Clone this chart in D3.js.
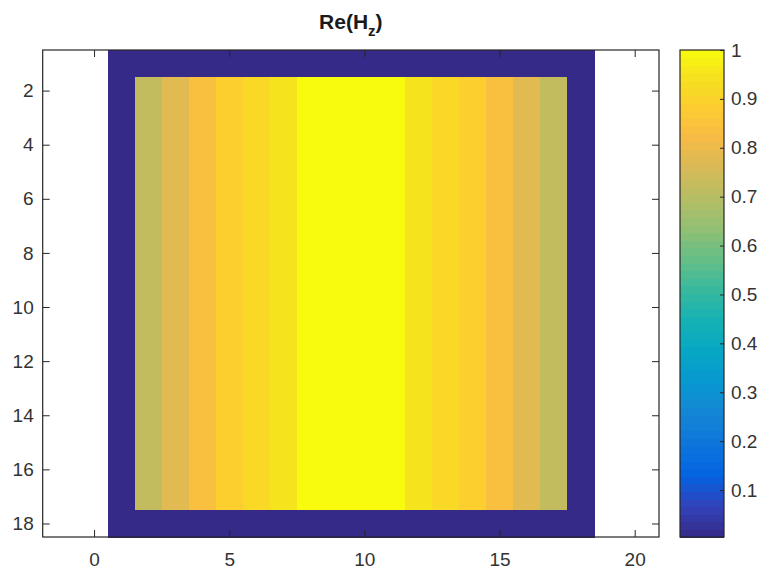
<!DOCTYPE html>
<html>
<head>
<meta charset="utf-8">
<script src="https://cdn.jsdelivr.net/npm/d3@7"></script>
<style>
  html, body { margin: 0; padding: 0; background: #fff; }
  svg { display: block; font-family: "Liberation Sans", Arial, Helvetica, sans-serif; }
</style>
</head>
<body>
<svg id="chart"></svg>
<script>
// Re(Hz) field, 18 x 18 grid: columns 1..18, rows 1..18
// the outer ring is at the colour-bar minimum, interior rows are all alike
const edgeRow  = [0.004, 0.004, 0.004, 0.004, 0.004, 0.004, 0.004, 0.004, 0.004, 0.004, 0.004, 0.004, 0.004, 0.004, 0.004, 0.004, 0.004, 0.004];
const innerRow = [0.004, 0.72, 0.78, 0.84, 0.89, 0.92, 0.95, 1.0, 1.0, 1.0, 1.0, 0.95, 0.92, 0.89, 0.84, 0.78, 0.72, 0.004];
const reHz = [
  edgeRow,
  innerRow, innerRow, innerRow, innerRow, innerRow, innerRow, innerRow, innerRow,
  innerRow, innerRow, innerRow, innerRow, innerRow, innerRow, innerRow, innerRow,
  edgeRow
];

const xTicks = [0, 5, 10, 15, 20];
const yTicks = [2, 4, 6, 8, 10, 12, 14, 16, 18];
const cbTicks = [0.1, 0.2, 0.3, 0.4, 0.5, 0.6, 0.7, 0.8, 0.9, 1];
const cLimits = [0.004, 1];

// parula colormap anchors (every 4th of the 64 entries)
const parula = ["#352a87", "#3243ba", "#0363e1", "#0d75dc", "#1485d4", "#0998d1", "#06a7c6", "#15b1b4",
                "#38b99e", "#65be86", "#92bf73", "#b7bd64", "#d9ba56", "#f8bb44", "#fcce2e", "#f5e41d", "#f9fb0e"];
const parulaPos = [0, 4, 8, 12, 16, 20, 24, 28, 32, 36, 40, 44, 48, 52, 56, 60, 63].map(i => i / 63);

const width = 763, height = 574;
const plot = { left: 42.7, right: 659, top: 50, bottom: 537 };
const cbar = { left: 680, right: 724 };
const axisColor = "#262626";

const svg = d3.select("#chart").attr("width", width).attr("height", height);

const x = d3.scaleLinear().domain([-1.9, 20.9]).range([plot.left, plot.right]);
const y = d3.scaleLinear().domain([0.5, 18.5]).range([plot.top, plot.bottom]);

const cmap = d3.scaleLinear().domain(parulaPos).range(parula).interpolate(d3.interpolateRgb).clamp(true);
const norm = d3.scaleLinear().domain(cLimits).range([0, 1]).clamp(true);
const colorOf = v => cmap(norm(v));

// image cells
const cells = [];
reHz.forEach((row, r) => row.forEach((v, c) => cells.push({ row: r + 1, col: c + 1, v })));

svg.append("g")
  .attr("shape-rendering", "crispEdges")
  .selectAll("rect")
  .data(cells)
  .join("rect")
  .attr("x", d => x(d.col - 0.5))
  .attr("y", d => y(d.row - 0.5))
  .attr("width", d => x(d.col + 0.5) - x(d.col - 0.5) + 0.5)
  .attr("height", d => y(d.row + 0.5) - y(d.row - 0.5) + 0.5)
  .attr("fill", d => colorOf(d.v));

// axes, ticks pointing inward, box on
const styleAxis = g => {
  g.select(".domain").remove();
  g.selectAll("line").attr("stroke", axisColor);
  g.selectAll("text").attr("fill", "#333").style("font-size", "19px");
};

svg.append("g")
  .attr("transform", `translate(0,${plot.bottom})`)
  .call(d3.axisBottom(x).tickValues(xTicks).tickSize(-7).tickSizeOuter(0).tickPadding(16))
  .call(styleAxis);
svg.append("g")
  .attr("transform", `translate(0,${plot.top})`)
  .call(d3.axisTop(x).tickValues(xTicks).tickSize(-7).tickSizeOuter(0).tickFormat(""))
  .call(styleAxis);
svg.append("g")
  .attr("transform", `translate(${plot.left},0)`)
  .call(d3.axisLeft(y).tickValues(yTicks).tickSize(-7).tickSizeOuter(0).tickPadding(9))
  .call(styleAxis);
svg.append("g")
  .attr("transform", `translate(${plot.right},0)`)
  .call(d3.axisRight(y).tickValues(yTicks).tickSize(-7).tickSizeOuter(0).tickFormat(""))
  .call(styleAxis);

svg.append("rect")
  .attr("x", plot.left).attr("y", plot.top)
  .attr("width", plot.right - plot.left).attr("height", plot.bottom - plot.top)
  .attr("fill", "none").attr("stroke", axisColor).attr("stroke-width", 1.2);

// title
const title = svg.append("text")
  .attr("x", (plot.left + plot.right) / 2)
  .attr("y", 29)
  .attr("text-anchor", "middle")
  .attr("fill", "#1a1a1a")
  .style("font-size", "21px")
  .style("font-weight", "bold");
title.append("tspan").text("Re(H");
title.append("tspan").attr("dy", 7).style("font-size", "15px").text("z");
title.append("tspan").attr("dy", -7).text(")");

// colour bar
const cy = d3.scaleLinear().domain(cLimits).range([plot.bottom, plot.top]);
const bands = d3.range(64).map(i => cLimits[0] + (cLimits[1] - cLimits[0]) * i / 64);
const bandH = (cLimits[1] - cLimits[0]) / 64;

svg.append("g")
  .attr("shape-rendering", "crispEdges")
  .selectAll("rect")
  .data(bands)
  .join("rect")
  .attr("x", cbar.left)
  .attr("y", d => cy(d + bandH))
  .attr("width", cbar.right - cbar.left)
  .attr("height", d => cy(d) - cy(d + bandH) + 0.6)
  .attr("fill", d => colorOf(d + bandH / 2));

svg.append("g")
  .attr("transform", `translate(${cbar.right},0)`)
  .call(d3.axisRight(cy).tickValues(cbTicks).tickSize(-4).tickSizeOuter(0).tickPadding(7).tickFormat(d => String(d)))
  .call(styleAxis);

svg.append("rect")
  .attr("x", cbar.left).attr("y", plot.top)
  .attr("width", cbar.right - cbar.left).attr("height", plot.bottom - plot.top)
  .attr("fill", "none").attr("stroke", axisColor).attr("stroke-width", 1.2);
</script>
</body>
</html>
